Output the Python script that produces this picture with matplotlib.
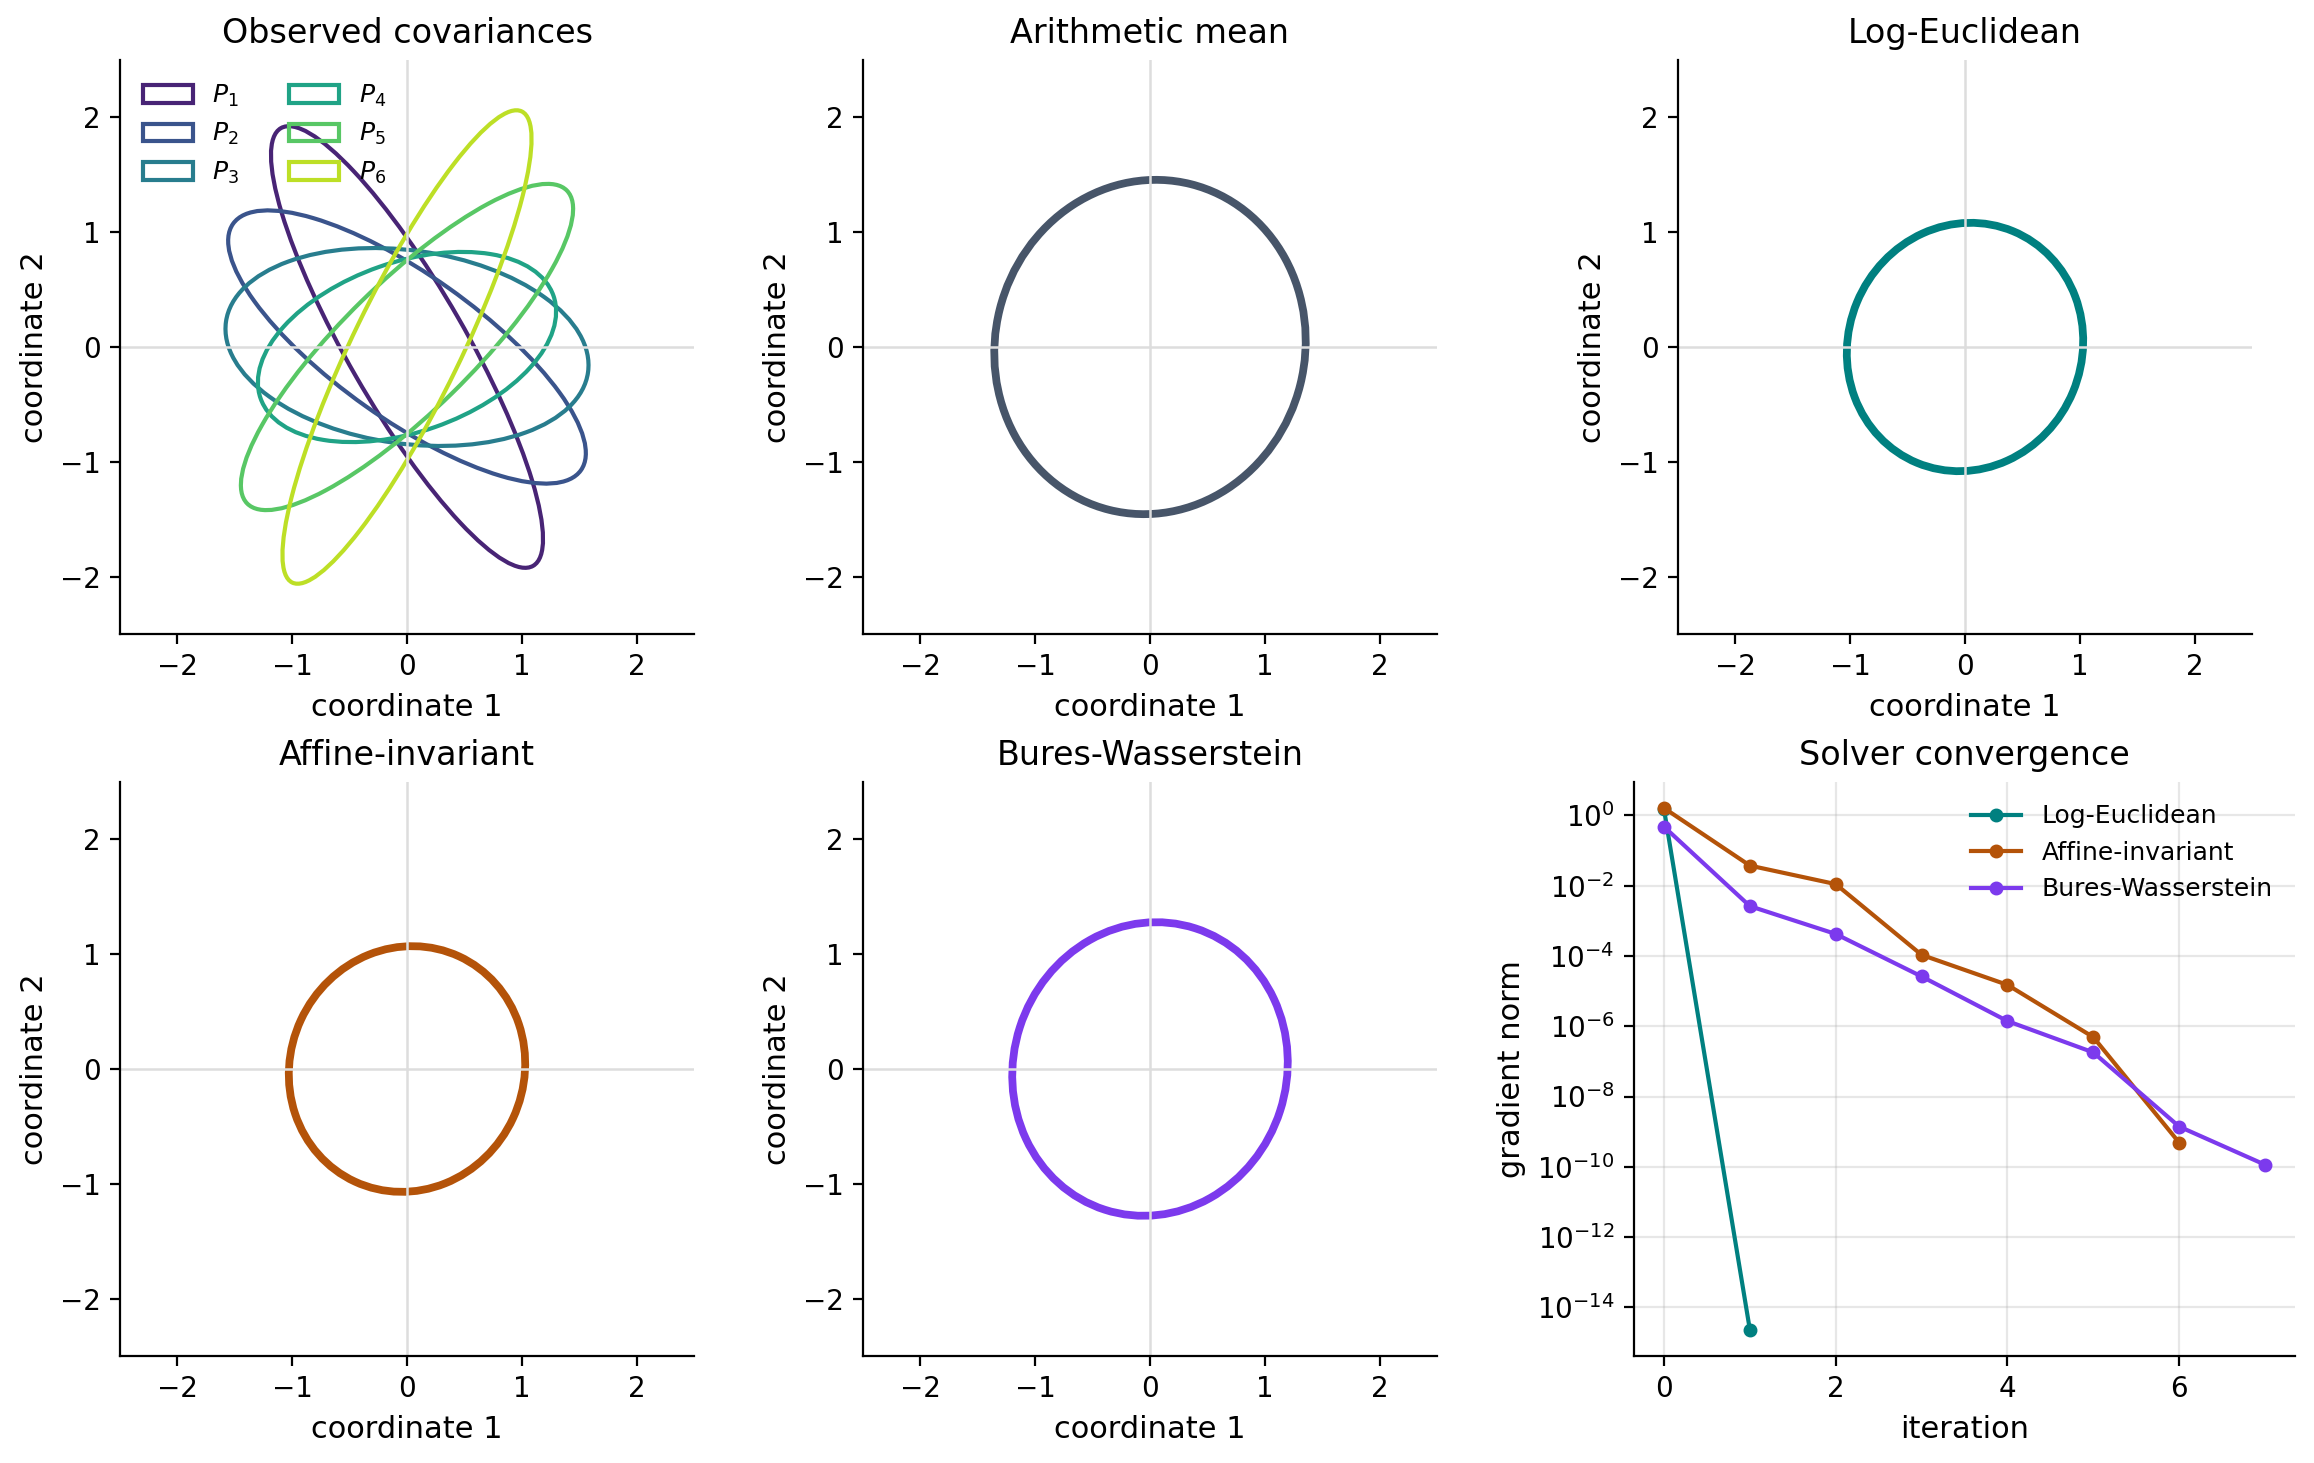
import numpy as np
import matplotlib
matplotlib.use("Agg")
import matplotlib.pyplot as plt
from matplotlib.patches import Ellipse
from matplotlib.ticker import NullLocator

# observed 2x2 covariances, entries: (p11, p12, p22)
P1 = (1.404, -1.98, 3.70)
P2 = (2.427, -1.44, 1.416)
P3 = (2.500, -0.25, 0.743)
P4 = (1.687, 0.40, 0.686)
P5 = (2.094, 1.74, 2.019)
P6 = (1.177, 1.965, 4.252)
observed = [P1, P2, P3, P4, P5, P6]
obs_labels = [r"$P_1$", r"$P_2$", r"$P_3$", r"$P_4$", r"$P_5$", r"$P_6$"]

# mean covariances
mean_arith = (1.84, 0.075, 2.12)
mean_logeuc = (1.06, 0.055, 1.17)
mean_affine = (1.06, 0.05, 1.145)
mean_bures = (1.44, 0.07, 1.635)

# solver convergence (gradient norm per iteration)
it_logeuc = [0, 1]
gn_logeuc = [1.46, 2.3e-15]
it_affine = [0, 1, 2, 3, 4, 5, 6]
gn_affine = [1.6, 3.7e-2, 1.1e-2, 1.07e-4, 1.5e-5, 4.9e-7, 4.9e-10]
it_bures = [0, 1, 2, 3, 4, 5, 6, 7]
gn_bures = [0.47, 2.6e-3, 4.2e-4, 2.6e-5, 1.4e-6, 1.8e-7, 1.4e-9, 1.15e-10]

c_arith = "#475569"
c_logeuc = "#008080"
c_affine = "#b45309"
c_bures = "#7c3aed"


def cov_ellipse(p, **kw):
    m = np.array([[p[0], p[1]], [p[1], p[2]]])
    vals, vecs = np.linalg.eigh(m)
    ang = np.degrees(np.arctan2(vecs[1, 1], vecs[0, 1]))
    return Ellipse((0, 0), 2 * np.sqrt(vals[1]), 2 * np.sqrt(vals[0]),
                   angle=ang, fill=False, **kw)


def style_ellipse_ax(ax, title):
    ax.axhline(0, color="#dddddd", lw=0.9)
    ax.axvline(0, color="#dddddd", lw=0.9)
    ax.set_xlim(-2.5, 2.5)
    ax.set_ylim(-2.5, 2.5)
    ax.set_aspect("equal")
    ax.set_title(title, fontsize=12)
    ax.set_xlabel("coordinate 1", fontsize=11)
    ax.set_ylabel("coordinate 2", fontsize=11)
    ax.tick_params(labelsize=10)
    ax.spines["top"].set_visible(False)
    ax.spines["right"].set_visible(False)


W, H = 2314, 1463
fig = plt.figure(figsize=(W / 200, H / 200), dpi=200)

sz = 574 / W
hh = 574 / H
row1 = 1 - 634 / H
row2 = 1 - 1356 / H

ax1 = fig.add_axes([120 / W, row1, sz, hh])
ax2 = fig.add_axes([863 / W, row1, sz, hh])
ax3 = fig.add_axes([1678 / W, row1, sz, hh])
ax4 = fig.add_axes([120 / W, row2, sz, hh])
ax5 = fig.add_axes([863 / W, row2, sz, hh])
ax6 = fig.add_axes([1634 / W, row2, 661 / W, hh])

colors = plt.cm.viridis(np.linspace(0.1, 0.9, len(observed)))
for p, lab, col in zip(observed, obs_labels, colors):
    ax1.add_patch(cov_ellipse(p, edgecolor=col, lw=1.5, label=lab))
style_ellipse_ax(ax1, "Observed covariances")
ax1.legend(loc="upper left", ncol=2, frameon=False, fontsize=9)

ax2.add_patch(cov_ellipse(mean_arith, edgecolor=c_arith, lw=2.8))
style_ellipse_ax(ax2, "Arithmetic mean")

ax3.add_patch(cov_ellipse(mean_logeuc, edgecolor=c_logeuc, lw=2.8))
style_ellipse_ax(ax3, "Log-Euclidean")

ax4.add_patch(cov_ellipse(mean_affine, edgecolor=c_affine, lw=2.8))
style_ellipse_ax(ax4, "Affine-invariant")

ax5.add_patch(cov_ellipse(mean_bures, edgecolor=c_bures, lw=2.8))
style_ellipse_ax(ax5, "Bures-Wasserstein")

ax6.semilogy(it_logeuc, gn_logeuc, "o-", color=c_logeuc, lw=1.5, ms=4, label="Log-Euclidean")
ax6.semilogy(it_affine, gn_affine, "o-", color=c_affine, lw=1.5, ms=4, label="Affine-invariant")
ax6.semilogy(it_bures, gn_bures, "o-", color=c_bures, lw=1.5, ms=4, label="Bures-Wasserstein")
ax6.yaxis.set_minor_locator(NullLocator())
ax6.grid(alpha=0.3)
ax6.set_title("Solver convergence", fontsize=12)
ax6.set_xlabel("iteration", fontsize=11)
ax6.set_ylabel("gradient norm", fontsize=11)
ax6.tick_params(labelsize=10)
ax6.spines["top"].set_visible(False)
ax6.spines["right"].set_visible(False)
ax6.legend(loc="upper right", frameon=False, fontsize=9)

fig.savefig("out.png", dpi=200)
